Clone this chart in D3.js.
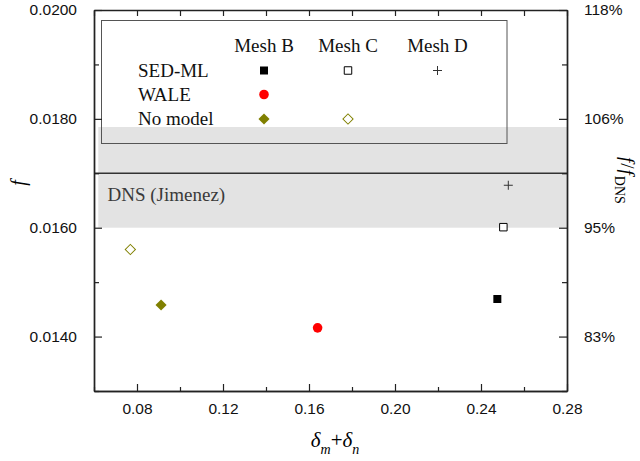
<!DOCTYPE html>
<html>
<head>
<meta charset="utf-8">
<script src="https://cdn.jsdelivr.net/npm/d3@7"></script>
<style>
  html, body { margin: 0; padding: 0; background: #fff; }
  svg { display: block; }
  .tick text { font-family: "Liberation Sans", Arial, sans-serif; font-size: 15.5px; fill: #111; }
  .serif { font-family: "Liberation Serif", "Times New Roman", serif; }
</style>
</head>
<body>
<svg id="chart" width="640" height="461"></svg>
<script>
// Friction factor versus delta_m + delta_n for each SGS model and mesh
const models = ["SED-ML", "WALE", "No model"];
const meshes = ["Mesh B", "Mesh C", "Mesh D"];

// [model, mesh, delta_m + delta_n, f]
const points = [
  ["SED-ML", "Mesh B", 0.2476, 0.01469],
  ["SED-ML", "Mesh C", 0.2504, 0.01601],
  ["SED-ML", "Mesh D", 0.2527, 0.01678],
  ["WALE", "Mesh B", 0.1640, 0.01416],
  ["No model", "Mesh B", 0.0912, 0.01458],
  ["No model", "Mesh C", 0.0769, 0.01560]
];

// DNS reference value and its shaded band
const fDNS = 0.0170;
const dnsBand = [0.0160, 0.01785];
const dnsLabel = "DNS (Jimenez)";

const xDomain = [0.06, 0.28];
const yDomain = [0.013, 0.020];
const xMajor = [0.08, 0.12, 0.16, 0.20, 0.24, 0.28];
const xMinor = [0.06, 0.10, 0.14, 0.18, 0.22, 0.26];
const yMajor = [0.014, 0.016, 0.018, 0.020];
const yMinor = [0.013, 0.015, 0.017, 0.019];
const yLeftLabels = ["0.0140", "0.0160", "0.0180", "0.0200"];
const yRightLabels = ["83%", "95%", "106%", "118%"];

const svg = d3.select("#chart");
const m = { left: 94, right: 567, top: 10, bottom: 391 };

const x = d3.scaleLinear().domain(xDomain).range([m.left, m.right]);
const y = d3.scaleLinear().domain(yDomain).range([m.bottom, m.top]);

// marker styles per (model, mesh)
const olive = "#808000";
const plusType = {
  draw(ctx, size) {
    const r = Math.sqrt(size) / 2;
    ctx.moveTo(-r, 0); ctx.lineTo(r, 0);
    ctx.moveTo(0, -r); ctx.lineTo(0, r);
  }
};
function markerStyle(model, mesh) {
  if (model === "SED-ML" && mesh === "Mesh B") return { type: d3.symbolSquare, size: 64, fill: "#000", stroke: "none", rot: 0 };
  if (model === "SED-ML" && mesh === "Mesh C") return { type: d3.symbolSquare, size: 56, fill: "#fff", stroke: "#000", rot: 0 };
  if (model === "SED-ML" && mesh === "Mesh D") return { type: plusType, size: 81, fill: "none", stroke: "#333", rot: 0 };
  if (model === "WALE") return { type: d3.symbolCircle, size: 72, fill: "#ff0000", stroke: "none", rot: 0 };
  if (model === "No model" && mesh === "Mesh B") return { type: d3.symbolSquare, size: 62, fill: olive, stroke: "none", rot: 45 };
  return { type: d3.symbolSquare, size: 52, fill: "#fff", stroke: olive, rot: 45 };
}
function drawMarker(g, model, mesh, px, py) {
  const s = markerStyle(model, mesh);
  g.append("path")
    .attr("d", d3.symbol().type(s.type).size(s.size)())
    .attr("transform", `translate(${px},${py}) rotate(${s.rot})`)
    .attr("fill", s.fill)
    .attr("stroke", s.stroke)
    .attr("stroke-width", 1);
}

// shaded DNS band
svg.append("rect")
  .attr("x", x(0.062)).attr("width", x(xDomain[1]) - x(0.062))
  .attr("y", y(dnsBand[1])).attr("height", y(dnsBand[0]) - y(dnsBand[1]))
  .attr("fill", "#e3e3e3");

// DNS reference line
svg.append("line")
  .attr("x1", m.left).attr("x2", m.right)
  .attr("y1", y(fDNS)).attr("y2", y(fDNS))
  .attr("stroke", "#333").attr("stroke-width", 1.6);

svg.append("text").attr("class", "serif")
  .attr("x", 107.5).attr("y", 200.5)
  .attr("font-size", 19).attr("fill", "#3a3a3a")
  .text(dnsLabel);

// legend
const leg = svg.append("g");
leg.append("rect")
  .attr("x", 101.5).attr("y", 20.5).attr("width", 405.5).attr("height", 123)
  .attr("fill", "none").attr("stroke", "#555").attr("stroke-width", 1);
const colX = { "Mesh B": 264, "Mesh C": 348, "Mesh D": 437.5 };
const rowY = { "SED-ML": 76.5, "WALE": 100.5, "No model": 125 };
meshes.forEach(ms => {
  leg.append("text").attr("class", "serif")
    .attr("x", colX[ms]).attr("y", 51.5)
    .attr("text-anchor", "middle").attr("font-size", 19).attr("fill", "#111")
    .text(ms);
});
models.forEach(md => {
  leg.append("text").attr("class", "serif")
    .attr("x", 138).attr("y", rowY[md])
    .attr("font-size", 19).attr("fill", "#111")
    .text(md);
});
points.forEach(([md, ms]) => drawMarker(leg, md, ms, colX[ms], rowY[md] - 6));

// data points
const pts = svg.append("g");
points.forEach(([md, ms, vx, vy]) => drawMarker(pts, md, ms, x(vx), y(vy)));

// axes (ticks point inward)
const axisColor = "#222";
function styleAxis(g) {
  g.select(".domain").attr("stroke", axisColor).attr("stroke-width", 1.4);
  g.selectAll(".tick line").attr("stroke", axisColor).attr("stroke-width", 1.2);
}
const fmtLeft = d => yLeftLabels[yMajor.indexOf(d)];
const fmtRight = d => yRightLabels[yMajor.indexOf(d)];

svg.append("g").attr("transform", `translate(0,${m.bottom})`)
  .call(d3.axisBottom(x).tickValues(xMajor).tickFormat(d3.format(".2f"))
    .tickSizeInner(-7).tickSizeOuter(0).tickPadding(12))
  .call(styleAxis);
svg.append("g").attr("transform", `translate(0,${m.bottom})`)
  .call(d3.axisBottom(x).tickValues(xMinor).tickFormat("").tickSizeInner(-4).tickSizeOuter(0))
  .call(styleAxis);
svg.append("g").attr("transform", `translate(0,${m.top})`)
  .call(d3.axisTop(x).tickValues(xMajor.concat(xMinor)).tickFormat("").tickSizeInner(-6).tickSizeOuter(0))
  .call(styleAxis);

svg.append("g").attr("transform", `translate(${m.left},0)`)
  .call(d3.axisLeft(y).tickValues(yMajor).tickFormat(fmtLeft)
    .tickSizeInner(-8).tickSizeOuter(0).tickPadding(17))
  .call(styleAxis);
svg.append("g").attr("transform", `translate(${m.left},0)`)
  .call(d3.axisLeft(y).tickValues(yMinor).tickFormat("").tickSizeInner(-5).tickSizeOuter(0))
  .call(styleAxis);
svg.append("g").attr("transform", `translate(${m.right},0)`)
  .call(d3.axisRight(y).tickValues(yMajor).tickFormat(fmtRight)
    .tickSizeInner(-8).tickSizeOuter(0).tickPadding(17))
  .call(styleAxis);
svg.append("g").attr("transform", `translate(${m.right},0)`)
  .call(d3.axisRight(y).tickValues(yMinor).tickFormat("").tickSizeInner(-5).tickSizeOuter(0))
  .call(styleAxis);

// axis titles
svg.append("text").attr("class", "serif")
  .attr("transform", "translate(25,183) rotate(-90)")
  .attr("text-anchor", "middle").attr("font-size", 20).attr("font-style", "italic")
  .text("f");

const rt = svg.append("text").attr("class", "serif")
  .attr("transform", "translate(621,157) rotate(90)")
  .attr("font-size", 19);
rt.append("tspan").attr("font-style", "italic").text("f");
rt.append("tspan").attr("dx", 1).text("/");
rt.append("tspan").attr("font-style", "italic").attr("dx", 1).text("f");
rt.append("tspan").attr("font-size", 14).attr("dy", 6).attr("dx", 1).text("DNS");

const bt = svg.append("text").attr("class", "serif")
  .attr("x", 335).attr("y", 447).attr("text-anchor", "middle")
  .attr("font-size", 21);
bt.append("tspan").attr("font-style", "italic").text("δ");
bt.append("tspan").attr("font-style", "italic").attr("font-size", 14).attr("dy", 7).text("m");
bt.append("tspan").attr("dy", -7).text("+");
bt.append("tspan").attr("font-style", "italic").text("δ");
bt.append("tspan").attr("font-style", "italic").attr("font-size", 14).attr("dy", 7).text("n");
</script>
</body>
</html>
